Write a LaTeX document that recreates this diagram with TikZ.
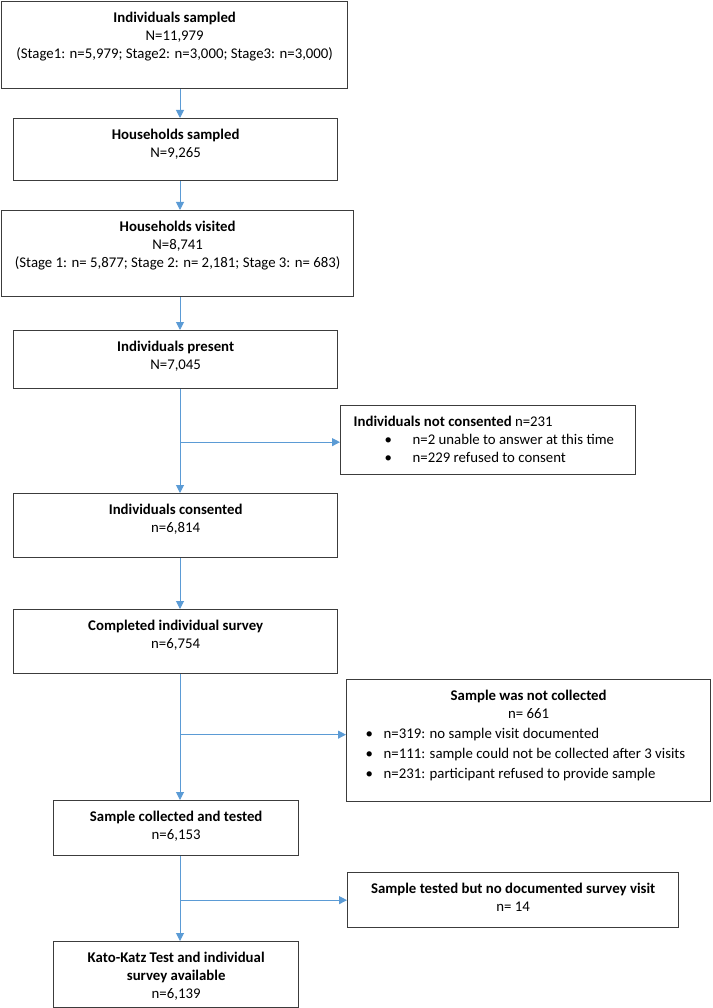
\documentclass[tikz,border=0pt]{standalone}
\usepackage{fontspec}
\setmainfont{Carlito}
\usetikzlibrary{arrows.meta}
\definecolor{flowblue}{RGB}{91,155,213}
\definecolor{boxgray}{RGB}{60,60,60}
% width, height, text
\newcommand{\boxtext}[3]{\parbox[t][#2][t]{#1}{\centering\rule{0pt}{21pt}#3}}
\newcommand{\listtext}[3]{\parbox[t][#2][t]{#1}{\raggedright\rule{0pt}{21pt}#3}}
\begin{document}
\begin{tikzpicture}[x=1pt, y=-1pt,
    box/.style={draw=boxgray, line width=1.3pt, rectangle, inner sep=0pt, anchor=north west,
      font=\fontsize{14.8pt}{18pt}\selectfont},
    flow/.style={draw=flowblue, line width=1pt, -{Triangle[length=8pt, width=8pt]}}]
  \useasboundingbox (0,0) rectangle (712,1008);
  \coordinate (trunk) at (180,0);
  % main column
  \node[box] (smp) at (1,1) {\boxtext{346pt}{87pt}{\textbf{Individuals sampled}\\ N=11,979\\ (Stage1: n=5,979; Stage2: n=3,000; Stage3: n=3,000)}};
  \node[box] (hhs) at (13,118) {\boxtext{324pt}{62pt}{\textbf{Households sampled}\\ N=9,265}};
  \node[box] (hhv) at (1,210) {\boxtext{352pt}{86pt}{\textbf{Households visited}\\ N=8,741\\ (Stage 1: n= 5,877; Stage 2: n= 2,181; Stage 3: n= 683)}};
  \node[box] (prs) at (13,330) {\boxtext{324pt}{58pt}{\textbf{Individuals present}\\ N=7,045}};
  \node[box] (cns) at (13,493) {\boxtext{324pt}{64pt}{\textbf{Individuals consented}\\ n=6,814}};
  \node[box] (srv) at (13,609) {\boxtext{324pt}{64pt}{\textbf{Completed individual survey}\\ n=6,754}};
  \node[box] (tst) at (53,800) {\boxtext{245pt}{55pt}{\textbf{Sample collected and tested}\\ n=6,153}};
  \node[box] (kk) at (53,941) {\boxtext{245pt}{66pt}{\textbf{Kato-Katz Test and individual\\ survey available}\\ n=6,139}};
  % exclusions
  \node[box] (ncs) at (340,405) {\listtext{295pt}{69pt}{\hspace*{13pt}\textbf{Individuals not consented} n=231\\
    \hspace*{44pt}\makebox[28pt][l]{\textbullet}n=2 unable to answer at this time\\
    \hspace*{44pt}\makebox[28pt][l]{\textbullet}n=229 refused to consent}};
  \node[box] (nsc) at (346,679) {\boxtext{364pt}{122pt}{\textbf{Sample was not collected}\\ n= 661\\[2pt]
    \raggedright
    \hspace*{19pt}\makebox[18pt][l]{\textbullet}n=319: no sample visit documented\\[2pt]
    \hspace*{19pt}\makebox[18pt][l]{\textbullet}n=111: sample could not be collected after 3 visits\\[2pt]
    \hspace*{19pt}\makebox[18pt][l]{\textbullet}n=231: participant refused to provide sample}};
  \node[box] (nsv) at (347,872) {\boxtext{331pt}{55pt}{\textbf{Sample tested but no documented survey visit}\\ n= 14}};
  % connectors
  \draw[flow] (smp.south -| trunk) -- (hhs.north -| trunk);
  \draw[flow] (hhs.south -| trunk) -- (hhv.north -| trunk);
  \draw[flow] (hhv.south -| trunk) -- (prs.north -| trunk);
  \draw[flow] (prs.south -| trunk) -- (cns.north -| trunk);
  \draw[flow] (cns.south -| trunk) -- (srv.north -| trunk);
  \draw[flow] (srv.south -| trunk) -- (tst.north -| trunk);
  \draw[flow] (tst.south -| trunk) -- (kk.north -| trunk);
  \draw[flow] ([yshift=-2pt]ncs.west -| trunk) -- ([yshift=-2pt]ncs.west);
  \draw[flow] ([yshift=6pt]nsc.west -| trunk) -- ([yshift=6pt]nsc.west);
  \draw[flow] (nsv.west -| trunk) -- (nsv.west);
\end{tikzpicture}
\end{document}
